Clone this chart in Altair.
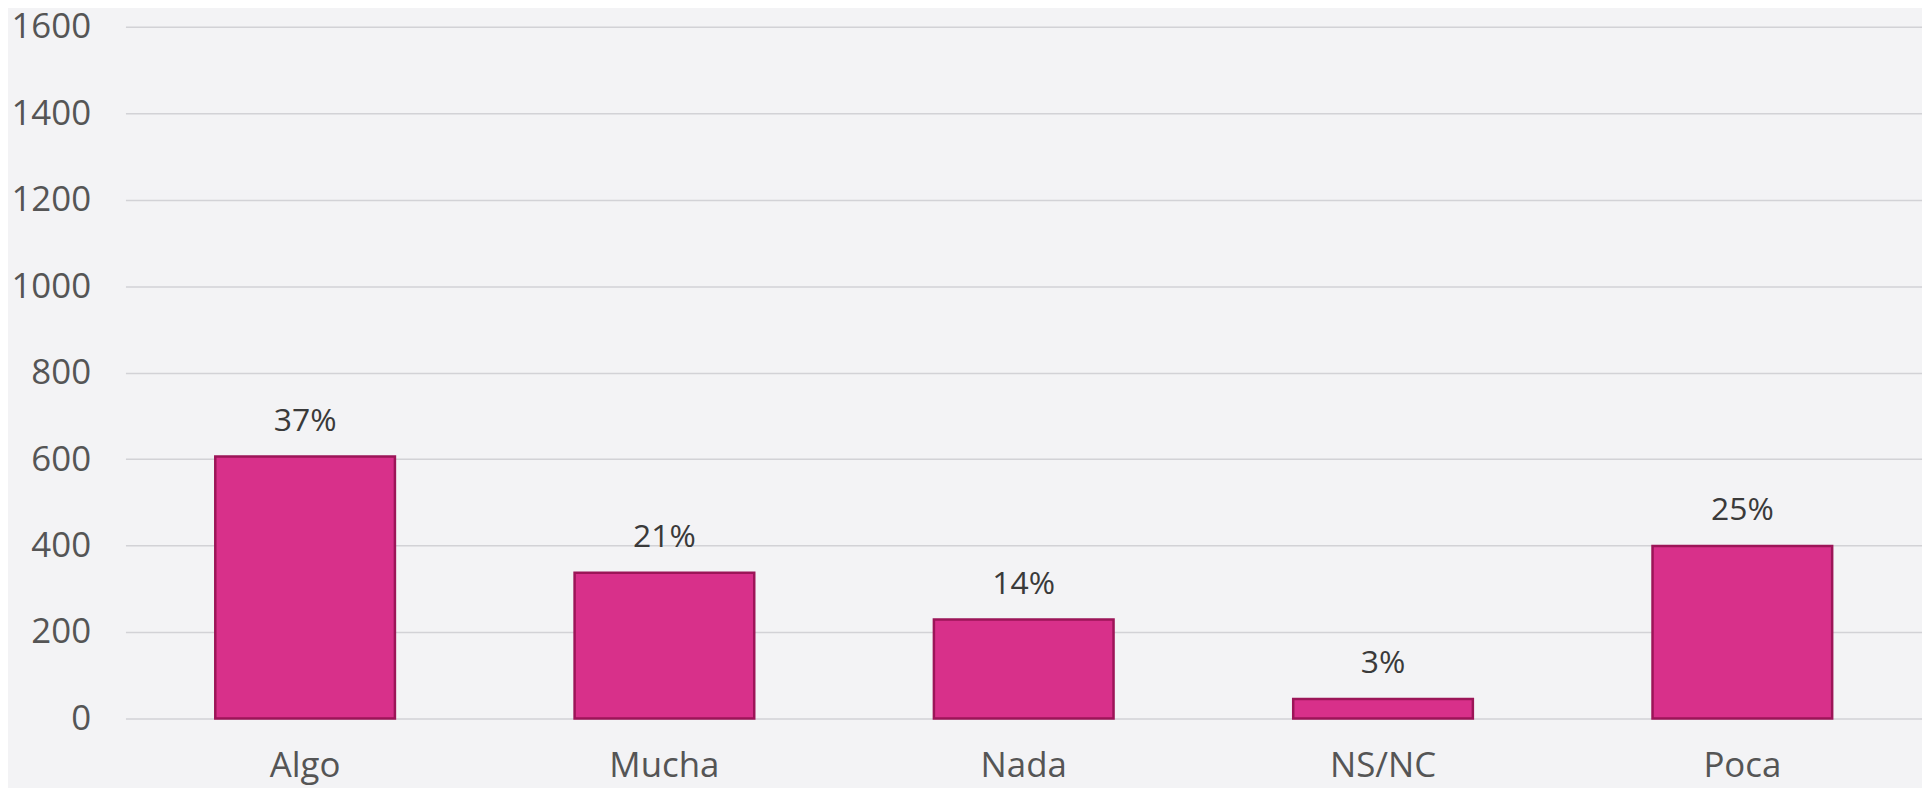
import altair as alt
import pandas as pd

categories = ["Algo", "Mucha", "Nada", "NS/NC", "Poca"]
values = [606, 337, 229, 45, 399]
pct_labels = ["37%", "21%", "14%", "3%", "25%"]
y_ticks = [0, 200, 400, 600, 800, 1000, 1200, 1400, 1600]

df = pd.DataFrame({"cat": categories, "val": values, "pct": pct_labels})

FONT = "Open Sans"

x = alt.X(
    "cat:N",
    sort=categories,
    title=None,
    scale=alt.Scale(paddingInner=0.5, paddingOuter=0.25),
    axis=alt.Axis(
        labelAngle=0, domain=False, ticks=False, labelPadding=30,
        labelFontSize=35, labelColor="#555555", labelFont=FONT, grid=False,
    ),
)
y = alt.Y(
    "val:Q",
    title=None,
    scale=alt.Scale(domain=[0, 1600], nice=False),
    axis=alt.Axis(
        values=y_ticks, format="d", domain=False, ticks=False, labelPadding=35,
        labelFontSize=35, labelColor="#555555", labelFont=FONT,
        gridColor="#d2d2d6", gridWidth=1.5,
    ),
)

bars = alt.Chart(df).mark_bar(
    color="#d8308a", stroke="#9c1558", strokeWidth=2.5
).encode(x=x, y=y)

labels = alt.Chart(df).mark_text(
    baseline="alphabetic", dy=-26, fontSize=32, font=FONT, color="#3a3a3a"
).encode(x=alt.X("cat:N", sort=categories), y="val:Q", text="pct:N")

chart = (bars + labels).properties(
    width=1805, height=695,
    autosize=alt.AutoSizeParams(type="none"),
    padding={"left": 118, "top": 17, "right": 0, "bottom": 70},
    background="#f3f3f5",
).configure_view(stroke=None)

chart.save("out.html", embed_options={"renderer": "svg", "actions": False})
